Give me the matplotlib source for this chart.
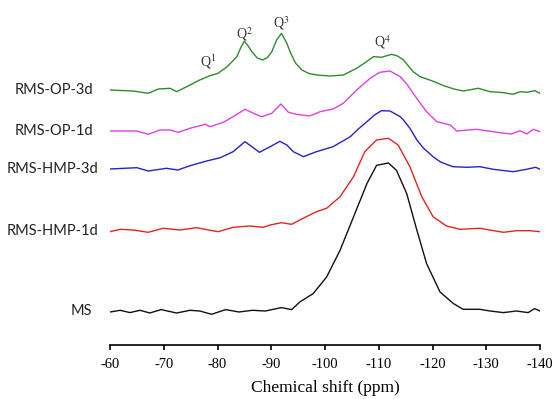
import matplotlib
matplotlib.use('Agg')
import matplotlib.pyplot as plt

plt.rcParams['axes.unicode_minus'] = False
plt.rcParams['mathtext.fontset'] = 'stix'

labels = ['RMS-OP-3d', 'RMS-OP-1d', 'RMS-HMP-3d', 'RMS-HMP-1d', 'MS']
colors = ['#2e8b2e', '#e040e0', '#2323c8', '#e02525', '#111111']
offsets = [255, 214, 176, 114, 34]

# chemical shift (ppm) and intensity (arbitrary units)
op3d_x = [-60, -62, -64.3, -67.1, -69, -71.2, -72.4, -74.9, -76.7, -78.6, -80.1, -81.8,
          -83.6, -84.3, -85.0, -85.7, -86.4, -87.4, -88.4, -89.3, -90.1, -91.0, -91.9,
          -92.9, -93.5, -94.5, -95.7, -97, -98.5, -100.9, -103.4, -105.9, -107.5, -109,
          -110.5, -112.4, -113.5, -114.6, -116.4, -117.7, -120, -122, -124, -125.7, -128.5,
          -130.7, -133, -135, -136.3, -137.6, -139, -140]
op3d_y = [0, -0.5, -1, -3.3, 1, 1.7, -1.7, 5, 10, 14.3, 16.7, 23.3,
          33.3, 42, 49, 44, 38.3, 32, 30, 32.5, 38.3, 50, 56.7,
          46.7, 38.3, 27, 20, 16.5, 15, 14, 15, 21.7, 27.5, 33.3,
          32.7, 35.7, 34, 30, 18.3, 13.3, 9, 4.5, 1, -1, 1.7,
          -1.7, -2.5, -4.3, -1.7, -2.3, -0.7, -3.3]

op1d_x = [-60, -65, -67.1, -69.3, -71.2, -72.7, -74.9, -77.7, -78.6, -81.1, -82.9, -85.1,
          -86.7, -88.2, -90.1, -91.8, -93.2, -94.7, -97.2, -99.1, -101.5, -103.4, -105.9,
          -108.4, -110.2, -112.1, -114, -115.2, -116.4, -117.7, -118.9, -120.8, -123.3,
          -124.5, -128.2, -132.6, -134.7, -136.3, -137.5, -138.8, -140]
op1d_y = [0, 0, -3.3, 1, 1, -1.3, 2.7, 6.7, 4.3, 8.7, 14.3, 21.7,
          17.7, 14.3, 17.7, 27, 18.7, 16.7, 15, 19.3, 22, 27.7, 41,
          52.7, 58.7, 60, 54.3, 47, 37.7, 28, 19.3, 9.3, 6,
          0, 1.7, -1.7, -3, 0.3, -3, 1.7, -0.7]

hmp3d_x = [-60, -65, -67.1, -70.5, -72.6, -74.9, -78, -80.5, -82.9, -85.1, -86.4, -87.8,
           -89.8, -91.6, -92.9, -94.1, -96, -98.4, -101.5, -104.7, -106.2, -107.8, -109.2,
           -110.5, -112.1, -114, -114.6, -115.8, -117.1, -118.3, -120.1, -121.5, -123.8,
           -126.4, -128.8, -131.3, -135, -137.5, -139.2, -140]
hmp3d_y = [0, 1.3, -2, 0.7, -1, 3.3, 8, 11.3, 17.3, 27.3, 22.3, 16.7,
           22.3, 27.7, 24, 17.3, 12.3, 17.3, 22.3, 32.3, 40, 47.3, 54,
           58.3, 58, 52.3, 49, 40.7, 29, 21, 12.3, 7, 2.3,
           1.7, 2.3, -0.3, -2.7, -0.3, 1.7, -0.3]

hmp1d_x = [-60, -61.9, -64.3, -67.1, -69.9, -73, -76.1, -80.1, -82.9, -86, -88.5, -89.8,
           -91.9, -93.8, -95.3, -98.4, -100.3, -102.8, -105.3, -107.4, -109.6, -111.8,
           -113.6, -115.8, -118, -120.1, -122.6, -125.1, -128.8, -133.2, -135.6, -138.1,
           -140]
hmp1d_y = [-0.7, 1.7, 1, -1.3, 2.7, 1, 3.3, -0.7, 3.7, 5, 3.7, 6,
           8.3, 6.7, 11, 19.3, 22.7, 34.3, 54.3, 79.3, 91, 92.7,
           86, 64.3, 34.3, 14.3, 5, 1.7, 2.7, -1.3, 0.3, 0.3,
           -0.7]

ms_x = [-60, -61.9, -63.7, -65.6, -67.4, -69.5, -72.4, -74.9, -76.7, -78.9, -81.5, -84,
        -86.5, -88.9, -91.9, -93.8, -95.3, -97.8, -100.3, -102.8, -105.3, -107.8, -109.6,
        -111.8, -113.3, -115.2, -117.1, -118.9, -121.4, -123.9, -125.7, -128.8, -130.7,
        -133.2, -135.6, -137.8, -139, -140]
ms_y = [-1, 0.7, -1.6, 0.7, -2, 1.4, -2, 0.7, 0, -3.3, 1.4, -1,
        0.7, 0, 3.4, 1.4, 9, 17.4, 34, 60.7, 94, 127.4, 145.7,
        148, 140.7, 117.4, 80.7, 47.4, 19, 7.4, 1.7, 1.7, 0,
        -1.6, 0, -1.6, 2.4, 0]

xs = [op3d_x, op1d_x, hmp3d_x, hmp1d_x, ms_x]
ys = [op3d_y, op1d_y, hmp3d_y, hmp1d_y, ms_y]

q_labels = [r'Q$^{1}$', r'Q$^{2}$', r'Q$^{3}$', r'Q$^{4}$']
q_pos = [(-78.2, 283), (-85.1, 311), (-91.8, 322), (-110.7, 303)]

fig = plt.figure(figsize=(5.55, 3.99), dpi=100)
ax = fig.add_axes([110 / 555, 54 / 399, 430 / 555, 330 / 399])

for x, y, off, c in zip(xs, ys, offsets, colors):
    ax.plot(x, [v + off for v in y], color=c, lw=1.0)

label_x = [-56.8, -56.8, -57.9, -57.9, -56.6]
for lab, off, lx in zip(labels, offsets, label_x):
    ax.text(lx, off, lab, ha='right', va='center', fontsize=10.5,
            family='Lato', color='#222222', clip_on=False)

for q, (qx, qy) in zip(q_labels, q_pos):
    ax.text(qx, qy, q, ha='center', va='center', fontsize=10,
            family='Liberation Serif', color='#333333')

ax.set_xlim(-60, -140)
ax.set_ylim(0, 330)
ax.set_xticks(range(-60, -141, -10))
ax.set_yticks([])
for s in ['top', 'right', 'left']:
    ax.spines[s].set_visible(False)
ax.spines['bottom'].set_linewidth(1.2)
ax.tick_params(axis='x', direction='out', length=3.5, width=1.2, pad=6,
               labelsize=10.5)
for t in ax.get_xticklabels():
    t.set_family('Liberation Serif')
ax.set_xlabel('Chemical shift (ppm)', family='Liberation Serif', fontsize=12.5,
              labelpad=6)

fig.savefig('out.png', dpi=100)
